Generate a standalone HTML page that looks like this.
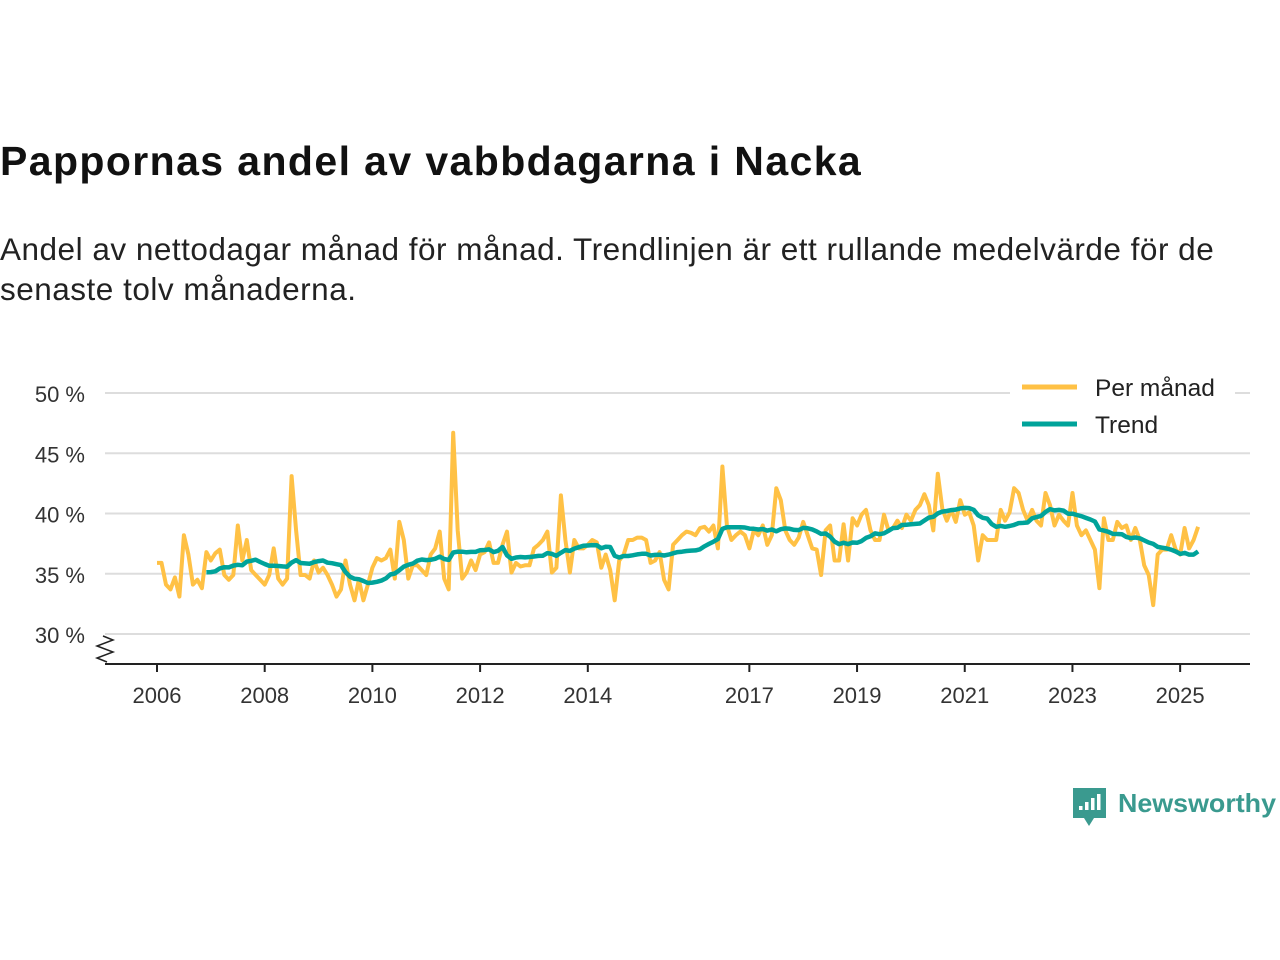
<!DOCTYPE html>
<html><head><meta charset="utf-8"><style>
body{margin:0;background:#fff;width:1280px;height:960px;overflow:hidden;font-family:"Liberation Sans",sans-serif;}
#title{position:absolute;left:0;top:138px;font-size:41px;font-weight:bold;color:#111;letter-spacing:1.4px;}
#sub{position:absolute;left:0;top:229px;font-size:31.5px;color:#222;line-height:40px;width:1245px;letter-spacing:0.5px;}
svg{position:absolute;left:0;top:0;}
</style></head><body>
<div id="title">Pappornas andel av vabbdagarna i Nacka</div>
<div id="sub">Andel av nettodagar månad för månad. Trendlinjen är ett rullande medelvärde för de senaste tolv månaderna.</div>
<svg id="chart" width="1280" height="960"></svg>
<script>
const startYear=2006;
const monthly=[
35.9,35.9,34.1,33.7,34.7,33.1,38.2,36.6,34.1,34.5,33.8,36.8,
36.1,36.7,37.0,34.9,34.5,34.9,39.0,36.1,37.8,35.3,34.9,34.5,
34.1,34.9,37.1,34.6,34.1,34.6,43.1,38.6,34.9,34.9,34.6,36.1,
35.1,35.5,34.9,34.1,33.1,33.7,36.1,34.1,32.8,34.5,32.8,34.1,
35.5,36.3,36.1,36.3,37.0,34.6,39.3,37.8,34.6,35.7,35.7,35.3,
34.9,36.6,37.1,38.5,34.6,33.7,46.7,38.6,34.6,35.1,36.1,35.3,
36.6,36.8,37.6,35.9,35.9,37.4,38.5,35.1,35.9,35.6,35.7,35.7,
37.1,37.4,37.8,38.5,35.1,35.5,41.5,37.8,35.1,37.8,37.1,37.1,
37.4,37.8,37.6,35.5,36.6,35.3,32.8,36.1,36.6,37.8,37.8,38.0,
38.0,37.8,35.9,36.1,36.8,34.5,33.7,37.4,37.8,38.2,38.5,38.4,
38.2,38.8,38.9,38.5,39.0,37.1,43.9,39.0,37.8,38.2,38.5,38.2,
37.1,38.6,38.2,39.0,37.4,38.2,42.1,41.1,38.6,37.8,37.4,38.0,
39.3,38.2,37.1,37.0,34.9,38.6,39.0,36.1,36.1,39.1,36.1,39.6,
39.0,39.9,40.3,38.6,37.8,37.8,39.9,38.6,38.8,39.4,38.8,39.9,
39.4,40.3,40.7,41.6,40.7,38.6,43.3,40.4,39.4,40.3,39.3,41.1,
39.9,40.1,39.0,36.1,38.2,37.8,37.8,37.8,40.3,39.4,40.1,42.1,
41.7,40.3,39.4,40.3,39.4,39.0,41.7,40.7,39.0,39.9,39.4,39.0,
41.7,39.0,38.2,38.6,37.8,37.0,33.8,39.6,37.8,37.8,39.3,38.8,
39.0,37.8,38.8,37.8,35.7,34.9,32.4,36.6,37.0,37.0,38.2,37.0,
36.6,38.8,37.1,37.8,38.9];
const yTicks=[30,35,40,45,50];
const yTickLabels=["30 %","35 %","40 %","45 %","50 %"];
const xTickYears=[2006,2008,2010,2012,2014,2017,2019,2021,2023,2025];
const NS="http://www.w3.org/2000/svg";
const svg=document.getElementById('chart');
const X=t=>157+(t-startYear)*53.85;
const Y=v=>393+(50-v)*12.05;
function mk(tag,attrs,parent){const e=document.createElementNS(NS,tag);for(const k in attrs)e.setAttribute(k,attrs[k]);(parent||svg).appendChild(e);return e;}
yTicks.forEach((v,i)=>{
  const g=mk('line',{x1:105,x2:1250,y1:Y(v),y2:Y(v),stroke:'#ddd','stroke-width':2});
  
  
  const t=mk('text',{x:85,y:Y(v)+9,'text-anchor':'end','font-size':22,fill:'#333','font-family':'Liberation Sans, sans-serif'});
  t.textContent=yTickLabels[i];
  
  
});
const ax=mk('line',{x1:105,x2:1250,y1:664,y2:664,stroke:'#222','stroke-width':2});


const zz=mk('polyline',{points:'103,636 113,640 97,646 113,652 97,658 107,662',fill:'none',stroke:'#222','stroke-width':1.5});


xTickYears.forEach(yr=>{
  const x=X(yr);
  const tk=mk('line',{x1:x,x2:x,y1:664,y2:672,stroke:'#222','stroke-width':2});
  
  
  const t=mk('text',{x:x,y:703,'text-anchor':'middle','font-size':22,fill:'#333','font-family':'Liberation Sans, sans-serif'});
  t.textContent=yr;
  
  
});
const pts=monthly.map((v,i)=>X(startYear+i/12).toFixed(1)+','+Y(v).toFixed(1)).join(' ');
const l1=mk('polyline',{points:pts,fill:'none',stroke:'#ffc145','stroke-width':4,'stroke-linejoin':'round'});


const tp=[];
for(let i=11;i<monthly.length;i++){let s=0;for(let j=i-11;j<=i;j++)s+=monthly[j];tp.push(X(startYear+i/12).toFixed(1)+','+Y(s/12).toFixed(1));}
const l2=mk('polyline',{points:tp.join(' '),fill:'none',stroke:'#00a39a','stroke-width':4.5,'stroke-linejoin':'round'});


const lb=mk('rect',{x:1010,y:370,width:225,height:70,fill:'#fff'});


[['Per månad','#ffc145',387],['Trend','#00a39a',424]].forEach(([n,c,y])=>{
  const l=mk('line',{x1:1022,x2:1077,y1:y,y2:y,stroke:c,'stroke-width':5});
  
  
  const t=mk('text',{x:1095,y:y+9,'font-size':24.5,fill:'#222','font-family':'Liberation Sans, sans-serif'});
  t.textContent=n;
  
  
});
const lg=mk('g',{});


mk('path',{d:'M1073,788 h33 v30 h-12 l-5,8 l-5,-8 h-11 z',fill:'#3a9a8f'},lg);
[[1079,806,4],[1085,802,8],[1091,798,12],[1097,794,16]].forEach(([x,y,h])=>mk('rect',{x:x,y:y,width:3.5,height:h,fill:'#fff'},lg));
const lt=mk('text',{x:1118,y:812,'font-size':26,'font-weight':'bold',fill:'#3a9a8f','font-family':'Liberation Sans, sans-serif',textLength:158,lengthAdjust:'spacingAndGlyphs'},lg);
lt.textContent='Newsworthy';
</script>
</body></html>
